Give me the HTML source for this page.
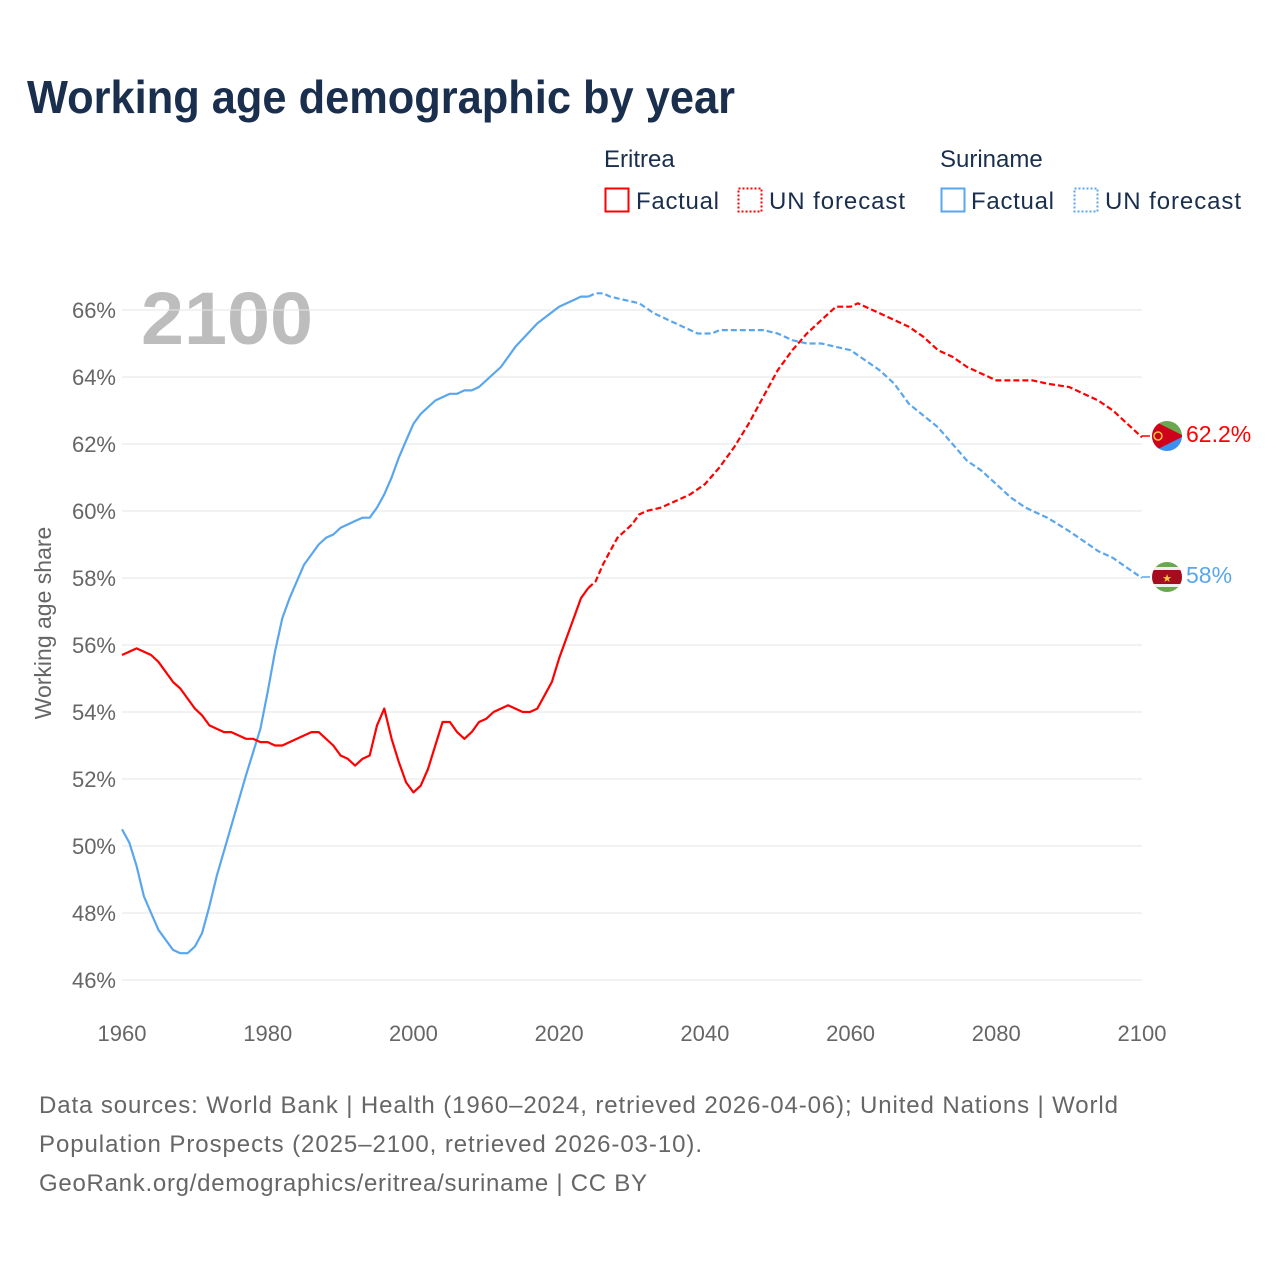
<!DOCTYPE html>
<html><head><meta charset="utf-8"><style>
html,body{margin:0;padding:0;background:#fff}
svg{display:block;font-family:"Liberation Sans",sans-serif}
</style></head><body>
<svg id="chart" width="1280" height="1280" viewBox="0 0 1280 1280" xmlns="http://www.w3.org/2000/svg">
<text x="27" y="113" font-size="46" font-weight="bold" fill="#1a2e4d" textLength="708" lengthAdjust="spacingAndGlyphs">Working age demographic by year</text>
<g font-size="24" fill="#1a2e4d">
<text x="604" y="167">Eritrea</text>
<text x="940" y="167">Suriname</text>
<rect x="605.5" y="188.5" width="23" height="23" fill="none" stroke="#ff0000" stroke-width="2"/>
<text x="636" y="209" textLength="83">Factual</text>
<rect x="738.5" y="188.5" width="23" height="23" fill="none" stroke="#ff0000" stroke-width="2" stroke-dasharray="2 2"/>
<text x="769" y="209" textLength="136">UN forecast</text>
<rect x="941.5" y="188.5" width="23" height="23" fill="none" stroke="#5aa6ee" stroke-width="2"/>
<text x="971" y="209" textLength="83">Factual</text>
<rect x="1074.5" y="188.5" width="23" height="23" fill="none" stroke="#5aa6ee" stroke-width="2" stroke-dasharray="2 2"/>
<text x="1105" y="209" textLength="136">UN forecast</text>
</g>
<text x="141" y="344" font-size="74" font-weight="bold" fill="#bdbdbd" textLength="172" lengthAdjust="spacingAndGlyphs">2100</text>
<g id="grid"></g>
<g id="axes"></g>
<g id="series"></g>
<text transform="translate(51,623) rotate(-90)" text-anchor="middle" font-size="23" fill="#666">Working age share</text>
<line x1="1142" y1="436" x2="1150" y2="436" stroke="#ff0000" stroke-width="1.5"/>
<line x1="1142" y1="577" x2="1150" y2="577" stroke="#5aa6ee" stroke-width="1.5"/>
<g id="flagE">
<clipPath id="cE"><circle cx="1167" cy="436" r="15"/></clipPath>
<g clip-path="url(#cE)"><rect x="1150" y="419" width="34" height="17" fill="#6aa84f"/><rect x="1150" y="436" width="34" height="17" fill="#3d8ff0"/><polygon points="1150,419 1184,436 1150,453" fill="#d0021b"/><circle cx="1158" cy="436" r="4" fill="none" stroke="#f5c542" stroke-width="1.5"/></g>
</g>
<g>
<clipPath id="cS"><circle cx="1167" cy="577" r="15"/></clipPath>
<g clip-path="url(#cS)"><rect x="1150" y="560" width="34" height="34" fill="#6aa84f"/><rect x="1150" y="567" width="34" height="20" fill="#eee"/><rect x="1150" y="570" width="34" height="14" fill="#a30d1d"/><text x="1167" y="582" text-anchor="middle" font-size="11" fill="#f5c542">★</text></g>
</g>
<text x="1186" y="442" font-size="23" fill="#ff0000">62.2%</text>
<text x="1186" y="583" font-size="23" fill="#5aa6ee">58%</text>
<g font-size="24" fill="#666">
<text x="39" y="1113" textLength="1079">Data sources: World Bank | Health (1960–2024, retrieved 2026-04-06); United Nations | World</text>
<text x="39" y="1152" textLength="663">Population Prospects (2025–2100, retrieved 2026-03-10).</text>
<text x="39" y="1191" textLength="608">GeoRank.org/demographics/eritrea/suriname | CC BY</text>
</g>
</svg>
<script>
const yTicks=[46,48,50,52,54,56,58,60,62,64,66];
const yTickLabels=["46%","48%","50%","52%","54%","56%","58%","60%","62%","64%","66%"];
const xTicks=[1960,1980,2000,2020,2040,2060,2080,2100];
const eritreaYears=[1960,1962,1964,1965,1967,1968,1970,1971,1972,1974,1975,1977,1978,1979,1980,1981,1982,1984,1986,1987,1989,1990,1991,1992,1993,1994,1995,1996,1997,1998,1999,2000,2001,2002,2003,2004,2005,2006,2007,2008,2009,2010,2011,2012,2013,2014,2015,2016,2017,2018,2019,2020,2021,2022,2023,2024];
const eritreaValues=[55.7,55.9,55.7,55.5,54.9,54.7,54.1,53.9,53.6,53.4,53.4,53.2,53.2,53.1,53.1,53.0,53.0,53.2,53.4,53.4,53.0,52.7,52.6,52.4,52.6,52.7,53.6,54.1,53.2,52.5,51.9,51.6,51.8,52.3,53.0,53.7,53.7,53.4,53.2,53.4,53.7,53.8,54.0,54.1,54.2,54.1,54.0,54.0,54.1,54.5,54.9,55.6,56.2,56.8,57.4,57.7];
const eritreaFcYears=[2024,2025,2026,2027,2028,2030,2031,2032,2034,2036,2038,2040,2042,2044,2046,2048,2050,2052,2054,2056,2058,2060,2061,2064,2068,2070,2072,2074,2076,2078,2080,2085,2087,2090,2094,2096,2098,2100];
const eritreaFcValues=[57.7,57.9,58.4,58.8,59.2,59.6,59.9,60.0,60.1,60.3,60.5,60.8,61.3,61.9,62.6,63.4,64.2,64.8,65.3,65.7,66.1,66.1,66.2,65.9,65.5,65.2,64.8,64.6,64.3,64.1,63.9,63.9,63.8,63.7,63.3,63.0,62.6,62.2];
const surinameYears=[1960,1961,1962,1963,1964,1965,1967,1968,1969,1970,1971,1972,1973,1975,1977,1979,1980,1981,1982,1983,1985,1987,1988,1989,1990,1992,1993,1994,1995,1996,1997,1998,1999,2000,2001,2003,2005,2006,2007,2008,2009,2012,2014,2017,2020,2023,2024];
const surinameValues=[50.5,50.1,49.4,48.5,48.0,47.5,46.9,46.8,46.8,47.0,47.4,48.2,49.1,50.6,52.1,53.5,54.6,55.8,56.8,57.4,58.4,59.0,59.2,59.3,59.5,59.7,59.8,59.8,60.1,60.5,61.0,61.6,62.1,62.6,62.9,63.3,63.5,63.5,63.6,63.6,63.7,64.3,64.9,65.6,66.1,66.4,66.4];
const surinameFcYears=[2024,2025,2026,2027,2029,2031,2033,2036,2039,2041,2042,2048,2050,2052,2054,2056,2060,2064,2066,2068,2072,2076,2078,2082,2084,2087,2090,2092,2094,2096,2098,2100];
const surinameFcValues=[66.4,66.5,66.5,66.4,66.3,66.2,65.9,65.6,65.3,65.3,65.4,65.4,65.3,65.1,65.0,65.0,64.8,64.2,63.8,63.2,62.5,61.5,61.2,60.4,60.1,59.8,59.4,59.1,58.8,58.6,58.3,58.0];

const NS="http://www.w3.org/2000/svg";
const X0=122,X1=1142,Y0=980,Y1=310;
function xScale(yr){return X0+(yr-1960)/(2100-1960)*(X1-X0);}
function yScale(v){return Y0-(v-46)/(66-46)*(Y0-Y1);}
function mk(tag,attrs,parent){const e=document.createElementNS(NS,tag);for(const k in attrs)e.setAttribute(k,attrs[k]);parent.appendChild(e);return e;}
const grid=document.getElementById('grid'),axes=document.getElementById('axes'),series=document.getElementById('series');
yTicks.forEach((t,i)=>{
  const l=mk('line',{x1:X0,x2:X1,y1:yScale(t),y2:yScale(t),stroke:'#e6e6e6','stroke-width':1},grid);
  
  
  const tx=mk('text',{x:116,y:yScale(t)+8,'text-anchor':'end','font-size':22,fill:'#666'},axes);
  tx.textContent=yTickLabels[i];
  
  
});
xTicks.forEach(t=>{
  const tx=mk('text',{x:xScale(t),y:1041,'text-anchor':'middle','font-size':22,fill:'#666'},axes);
  tx.textContent=t;
  
  
});
function line(xs,vs,color,dash,name){
  const d=xs.map((x,i)=>(i?'L':'M')+xScale(x).toFixed(1)+','+yScale(vs[i]).toFixed(1)).join('');
  const p=mk('path',{d:d,fill:'none',stroke:color,'stroke-width':2.2,'stroke-linejoin':'round'},series);
  if(dash)p.setAttribute('stroke-dasharray',dash);
  
  
}
line(surinameYears,surinameValues,'#5aa6ee',null,'suriname-factual-line');
line(surinameFcYears,surinameFcValues,'#5aa6ee','6 3','suriname-forecast-line');
line(eritreaYears,eritreaValues,'#ff0000',null,'eritrea-factual-line');
line(eritreaFcYears,eritreaFcValues,'#ff0000','6 3','eritrea-forecast-line');
</script>
</body></html>
